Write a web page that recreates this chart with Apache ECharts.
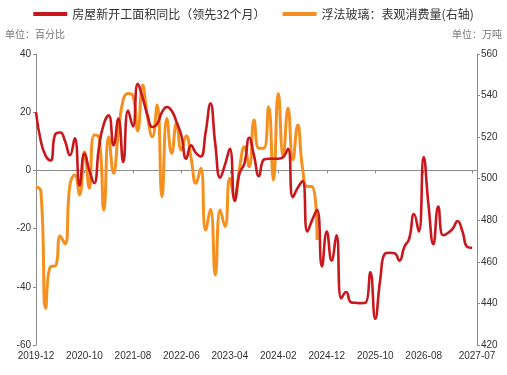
<!DOCTYPE html>
<html>
<head>
<meta charset="utf-8">
<script src="https://cdn.jsdelivr.net/npm/echarts@6/dist/echarts.min.js"></script>
<style>
  html, body { margin: 0; padding: 0; background: #fff; }
  #chart { width: 507px; height: 375px; }
</style>
</head>
<body>
<div id="chart"></div>
<script>
// 月份（2019-12 ~ 2027-07）
var months = [
  '2019-12',
  '2020-01', '2020-02', '2020-03', '2020-04', '2020-05', '2020-06', '2020-07', '2020-08', '2020-09', '2020-10', '2020-11', '2020-12',
  '2021-01', '2021-02', '2021-03', '2021-04', '2021-05', '2021-06', '2021-07', '2021-08', '2021-09', '2021-10', '2021-11', '2021-12',
  '2022-01', '2022-02', '2022-03', '2022-04', '2022-05', '2022-06', '2022-07', '2022-08', '2022-09', '2022-10', '2022-11', '2022-12',
  '2023-01', '2023-02', '2023-03', '2023-04', '2023-05', '2023-06', '2023-07', '2023-08', '2023-09', '2023-10', '2023-11', '2023-12',
  '2024-01', '2024-02', '2024-03', '2024-04', '2024-05', '2024-06', '2024-07', '2024-08', '2024-09', '2024-10', '2024-11', '2024-12',
  '2025-01', '2025-02', '2025-03', '2025-04', '2025-05', '2025-06', '2025-07', '2025-08', '2025-09', '2025-10', '2025-11', '2025-12',
  '2026-01', '2026-02', '2026-03', '2026-04', '2026-05', '2026-06', '2026-07', '2026-08', '2026-09', '2026-10', '2026-11', '2026-12',
  '2027-01', '2027-02', '2027-03', '2027-04', '2027-05', '2027-06', '2027-07'
]

// 房屋新开工面积同比（领先32个月），%
var startsYoY = [
  20, 10, 5, 3.4, 12.5, 13, 10, 5.2, 11, -5.2,
  5.8, 0, -4.4, 8, 16, 18.9, 8.6, 17.8, 2.9, 20.6,
  15.1, 29.8, 25, 19, 14.9, 16, 20, 21.8, 20.5, 16.6,
  12, 4, 8.6, 6, 4.8, 13, 23, 9, -2.5, 2,
  7.4, -10.5, -1, 2.3, 11.2, 5, -2, 3.7, 4, 4,
  4, 4.5, 7.4, -9.2, -6, -3.7, -21, -17, -13.5, -33,
  -21, -31, -22.3, -44, -41.8, -45.3, -45.5, -45.6, -45.5, -35,
  -51, -38, -28.6, -28.3, -28.5, -31, -26.3, -23.5, -15, -21,
  4.6, -12, -25.4, -12.4, -22.3, -21.5, -20, -17.4, -21, -26.3,
  -26.6
]

// 浮法玻璃：表观消费量（右轴），万吨
var glassConsumption = [
  496, 494, 437.7, 457.7, 458, 472.4, 468.6, 497, 501.8, 492.2,
  513, 495.4, 521, 520, 485, 520.2, 502.6, 522, 538, 541,
  540, 523, 545, 530, 520.2, 535.5, 491.3, 529, 512.2, 526.7,
  513.8, 520.5, 510, 497.8, 505, 475.3, 485.3, 453.7, 485, 477,
  500.2, 490.6, 505, 515.4, 505.8, 528.2, 514.6, 514.6, 534.6, 499.4,
  541, 510.6, 533.9, 509, 525.8, 505, 496.2, 496.2, 470.5
]

var leftTicks = { min: -60, max: 40, step: 20 }
var rightTicks = { min: 420, max: 560, step: 20 }

var lastIdx = months.length - 1
function showMonth(index) {
  return (index % 10 === 0 && index < lastIdx - 5) || index === lastIdx
}

var axisGray = '#8c8c8c'
var labelColor = '#333'
var numFont = '"Liberation Sans", Arial, sans-serif'
var cjkFont = '"Noto Sans CJK SC", sans-serif'

var chart = echarts.init(document.getElementById('chart'))
chart.setOption({
  animation: false,
  color: ['#C8171D', '#F5901F'],
  legend: {
    top: 3,
    left: 'center',
    itemWidth: 34,
    itemHeight: 4,
    itemGap: 17,
    icon: 'rect',
    textStyle: { fontSize: 12, color: '#333', fontFamily: cjkFont },
    data: ['房屋新开工面积同比（领先32个月）', '浮法玻璃：表观消费量(右轴)']
  },
  graphic: [
    {
      type: 'text', left: 5, top: 29,
      style: { text: '单位：百分比', fontSize: 10, fill: '#777', fontFamily: cjkFont }
    },
    {
      type: 'text', right: 5, top: 29,
      style: { text: '单位：万吨', fontSize: 10, fill: '#777', fontFamily: cjkFont }
    }
  ],
  grid: { left: 36, right: 30, top: 54, bottom: 30 },
  xAxis: [
    {
      type: 'category',
      data: months,
      boundaryGap: false,
      axisLine: { show: false, onZero: false },
      axisTick: { show: false },
      axisLabel: {
        interval: function(index) { return showMonth(index) },
        fontSize: 10,
        color: labelColor,
        fontFamily: numFont,
        margin: 6
      },
      splitLine: { show: false }
    },
    {
      // 零轴
      type: 'category',
      data: months,
      boundaryGap: false,
      position: 'bottom',
      axisLine: { onZero: true, lineStyle: { color: axisGray, width: 1 } },
      axisTick: {
        show: true,
        length: 3,
        interval: function(index) { return index % 10 === 0 && index > 0 },
        lineStyle: { color: axisGray }
      },
      axisLabel: { show: false },
      splitLine: { show: false }
    }
  ],
  yAxis: [
    {
      type: 'value',
      position: 'left',
      min: leftTicks.min,
      max: leftTicks.max,
      interval: leftTicks.step,
      axisLine: { show: true, lineStyle: { color: axisGray } },
      axisTick: { show: true, length: 3, lineStyle: { color: axisGray } },
      axisLabel: { fontSize: 10, color: labelColor, fontFamily: numFont, margin: 5 },
      splitLine: { show: false }
    },
    {
      type: 'value',
      position: 'right',
      min: rightTicks.min,
      max: rightTicks.max,
      interval: rightTicks.step,
      axisLine: { show: true, lineStyle: { color: axisGray } },
      axisTick: { show: true, length: 3, lineStyle: { color: axisGray } },
      axisLabel: { fontSize: 10, color: labelColor, fontFamily: numFont, margin: 4 },
      splitLine: { show: false }
    }
  ],
  series: [
    {
      name: '房屋新开工面积同比（领先32个月）',
      type: 'line',
      data: startsYoY,
      xAxisIndex: 0,
      yAxisIndex: 0,
      smooth: 0.5,
      showSymbol: false,
      z: 4,
      lineStyle: { width: 2.6, color: '#C8171D' }
    },
    {
      name: '浮法玻璃：表观消费量(右轴)',
      type: 'line',
      data: glassConsumption,
      xAxisIndex: 0,
      yAxisIndex: 1,
      smooth: 0.5,
      showSymbol: false,
      z: 3,
      lineStyle: { width: 3, color: '#F5901F' }
    }
  ]
})
</script>
</body>
</html>
